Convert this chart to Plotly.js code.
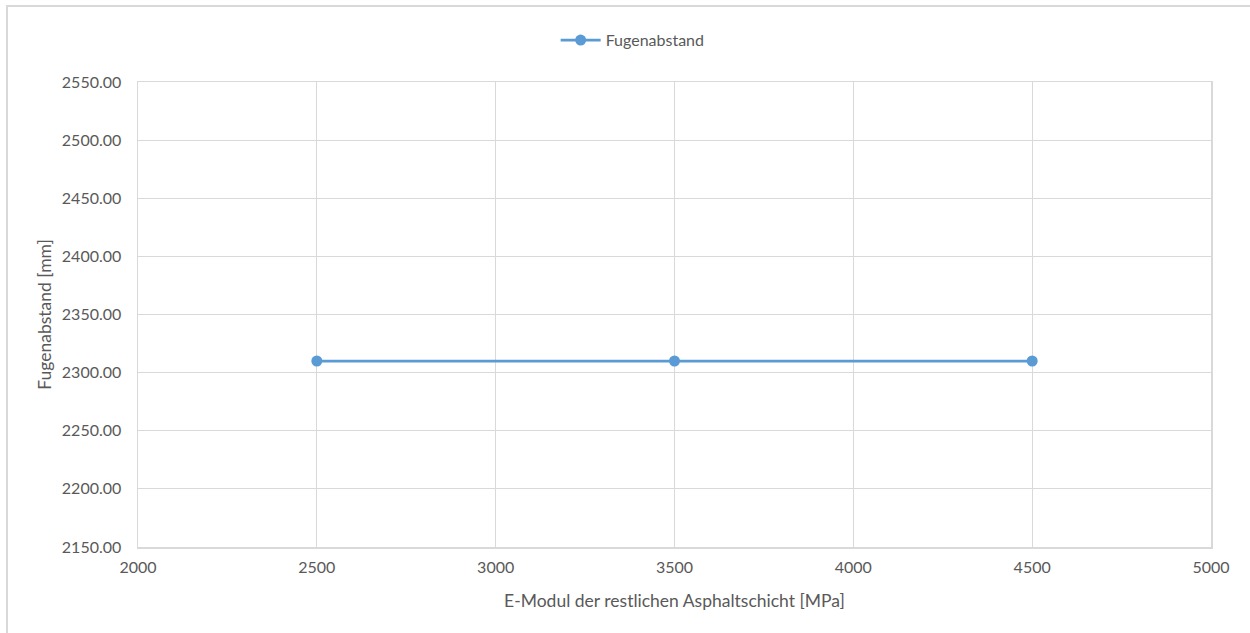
<!DOCTYPE html>
<html>
<head>
<meta charset="utf-8">
<script src="https://cdn.plot.ly/plotly-3.0.1.min.js"></script>
<style>
  html, body { margin: 0; padding: 0; background: #fff; }
  #wrap { position: relative; width: 1250px; height: 633px; overflow: hidden; }
  #chart { position: absolute; left: 0; top: 0; width: 1250px; height: 633px; }
  #frame { position: absolute; left: 6px; top: 5px; width: 1260px; height: 640px;
           border-left: 2px solid #d9d9d9; border-top: 2px solid #d9d9d9; pointer-events: none; }
</style>
</head>
<body>
<div id="wrap">
  <div id="chart"></div>
  <div id="frame"></div>
</div>
<script>
// E-Modul der restlichen Asphaltschicht [MPa] vs. Fugenabstand [mm]
const eModul = [2500, 3500, 4500];
const fugenabstand = [2310, 2310, 2310];
const seriesName = 'Fugenabstand';

const textColor = '#595959';
const gridColor = '#d9d9d9';
const fontFamily = 'Lato, "Open Sans", "Liberation Sans", sans-serif';

const trace = {
  x: eModul,
  y: fugenabstand,
  name: seriesName,
  type: 'scatter',
  mode: 'lines+markers',
  line: { color: '#5b9bd5', width: 2.75 },
  marker: { color: '#5b9bd5', size: 11 },
  showlegend: true
};

const layout = {
  width: 1250,
  height: 633,
  margin: { l: 138, r: 39, t: 82, b: 86 },
  paper_bgcolor: 'rgba(0,0,0,0)',
  plot_bgcolor: '#fff',
  font: { family: fontFamily, color: textColor, size: 16 },
  showlegend: true,
  legend: {
    orientation: 'h',
    x: 0.461, xanchor: 'center',
    y: 1.09, yanchor: 'middle',
    font: { size: 16, color: textColor },
    itemwidth: 40
  },
  xaxis: {
    range: [2000, 5000],
    tick0: 2000, dtick: 500,
    showgrid: true, gridcolor: gridColor, gridwidth: 1,
    zeroline: false,
    showline: true, linecolor: gridColor, linewidth: 1.5, mirror: true,
    ticks: '',
    ticklabelstandoff: 5,
    tickfont: { size: 16, color: textColor },
    title: { text: 'E-Modul der restlichen Asphaltschicht [MPa]', font: { size: 17.5, color: textColor }, standoff: 20 }
  },
  yaxis: {
    range: [2150, 2550],
    tick0: 2150, dtick: 50,
    tickformat: '.2f',
    showgrid: true, gridcolor: gridColor, gridwidth: 1,
    zeroline: false,
    showline: true, linecolor: gridColor, linewidth: 1.5, mirror: true,
    ticks: '',
    ticklabelstandoff: 12,
    tickfont: { size: 16, color: textColor },
    title: { text: 'Fugenabstand [mm]', font: { size: 17.5, color: textColor }, standoff: 5 }
  }
};

Plotly.newPlot('chart', [trace], layout, { displayModeBar: false, staticPlot: true });
</script>
</body>
</html>
